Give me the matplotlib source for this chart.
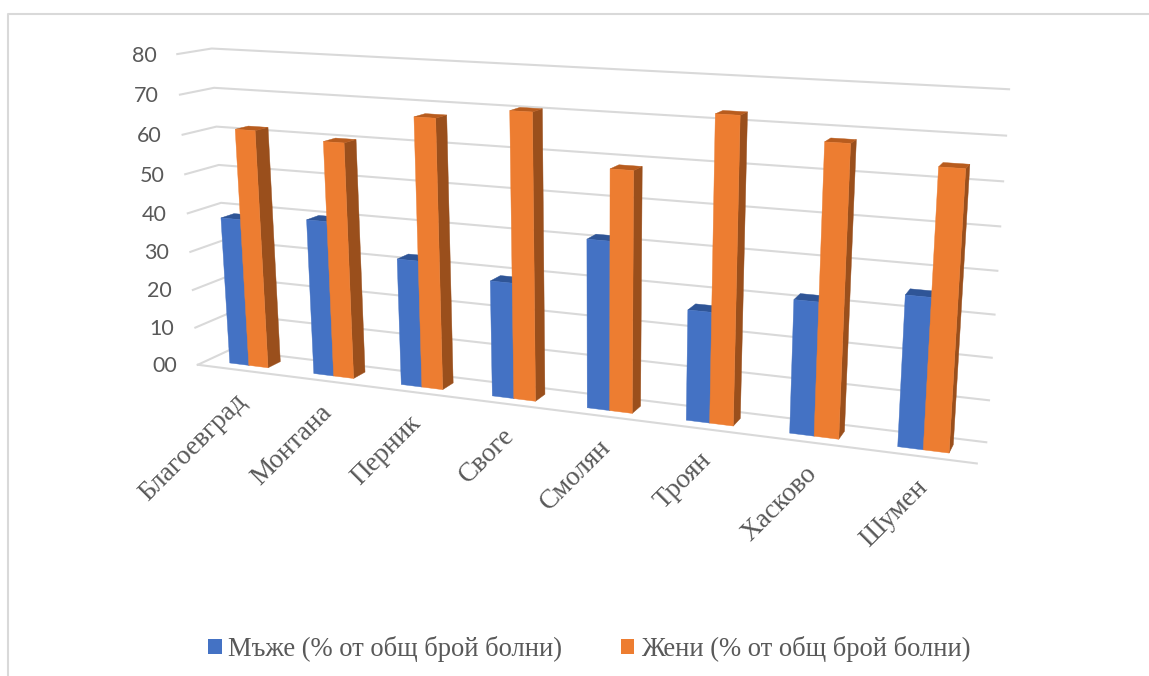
import matplotlib
matplotlib.use('Agg')
import matplotlib.pyplot as plt
from matplotlib.patches import Polygon, Patch
import numpy as np

plt.rcParams['font.family'] = ['Liberation Serif', 'DejaVu Sans']

CITIES = ['Благоевград', 'Монтана', 'Перник', 'Своге', 'Смолян', 'Троян', 'Хасково', 'Шумен']
MEN = [38.5, 40.0, 32.2, 29.0, 41.4, 26.8, 31.7, 35.2]
WOMEN = [61.5, 60.0, 67.5, 70.4, 58.4, 72.5, 67.8, 64.0]
VALUE_TICKS = [0, 10, 20, 30, 40, 50, 60, 70, 80]
VALUE_LABELS = ['00', '10', '20', '30', '40', '50', '60', '70', '80']
LEGEND_LABELS = ['Мъже (% от общ брой болни)', 'Жени (% от общ брой болни)']

BLUE = ('#4472c4', '#2f5597', '#2f5597')
ORANGE = ('#ed7d31', '#b85c1e', '#9a4f1c')
GRID = '#d9d9d9'
TEXT = '#595959'

# (category, value, depth) -> pixel, perspective camera solved from the box corners
_WORLD = np.array([
    [0, 0, 0], [0, 80, 0], [0, 0, 1], [0, 80, 1],
    [8, 0, 1], [8, 80, 1], [8, 0, 0],
    [0.27, 0, 0.3], [7.73, 0, 0.3], [4.27, 0, 0.3],
], dtype=float)
_PIXEL = np.array([
    [198, 364], [177, 55], [230, 352], [212, 47],
    [986, 441], [1009, 90], [977, 464],
    [230, 362], [950, 453], [586, 408],
], dtype=float)


def _solve_camera(world, pixel):
    rows = []
    for (x, y, z), (u, v) in zip(world, pixel):
        rows.append([x, y, z, 1, 0, 0, 0, 0, -u * x, -u * y, -u * z, -u])
        rows.append([0, 0, 0, 0, x, y, z, 1, -v * x, -v * y, -v * z, -v])
    return np.linalg.svd(np.array(rows))[2][-1].reshape(3, 4)


CAMERA = _solve_camera(_WORLD, _PIXEL)


def project(x, y, z):
    p = CAMERA @ np.array([x, y, z, 1.0])
    return p[0] / p[2], p[1] / p[2]


def draw_bar(ax, x0, x1, value, z0, z1, colors):
    front, top, side = colors
    faces = [
        (side, [(x1, 0, z0), (x1, 0, z1), (x1, value, z1), (x1, value, z0)]),
        (top, [(x0, value, z0), (x1, value, z0), (x1, value, z1), (x0, value, z1)]),
        (front, [(x0, 0, z0), (x1, 0, z0), (x1, value, z0), (x0, value, z0)]),
    ]
    for color, pts in faces:
        ax.add_patch(Polygon([project(*p) for p in pts], closed=True, facecolor=color,
                             edgecolor=color, linewidth=0.3, zorder=3))


fig = plt.figure(figsize=(11.49, 6.76), dpi=100)
ax = fig.add_axes([0, 0, 1, 1])
ax.set_xlim(0, 1149)
ax.set_ylim(676, 0)
ax.axis('off')

# chart frame
ax.plot([1149, 8, 8], [13.5, 13.5, 676], color=GRID, lw=1.5, zorder=1)

# gridlines on the back and side walls
for v in VALUE_TICKS:
    a, b, c = project(0, v, 0), project(0, v, 1), project(8, v, 1)
    ax.plot([a[0], b[0], c[0]], [a[1], b[1], c[1]], color=GRID, lw=1.5, zorder=2)
a, b = project(0, 0, 0), project(8, 0, 0)
ax.plot([a[0], b[0]], [a[1], b[1]], color=GRID, lw=1.5, zorder=2)

for i in range(len(CITIES)):
    draw_bar(ax, i + 0.27, i + 0.5, MEN[i], 0.3, 0.7, BLUE)
    draw_bar(ax, i + 0.5, i + 0.73, WOMEN[i], 0.3, 0.7, ORANGE)

    # category label hangs off the front edge under its bars
    px, py = project(i + 0.5, 0, 0)
    ax.text(px - 5, py + 19, CITIES[i], rotation=45, rotation_mode='anchor', ha='right', va='top',
            fontsize=19.5, color=TEXT)

for v, label in zip(VALUE_TICKS, VALUE_LABELS):
    px, py = project(0, v, 0)
    ax.text(px - 21, py + 1.5, label, ha='right', va='center', fontsize=15.5, color=TEXT, family='Lato')

handles = [Patch(facecolor=BLUE[0]), Patch(facecolor=ORANGE[0])]
ax.legend(handles, LEGEND_LABELS, ncol=2, frameon=False, loc='center', bbox_to_anchor=(0.513, 0.04),
          fontsize=19.2, labelcolor=TEXT, handlelength=0.5, handleheight=0.5, handletextpad=0.25,
          columnspacing=2.2)

fig.savefig('out.png', dpi=100)
